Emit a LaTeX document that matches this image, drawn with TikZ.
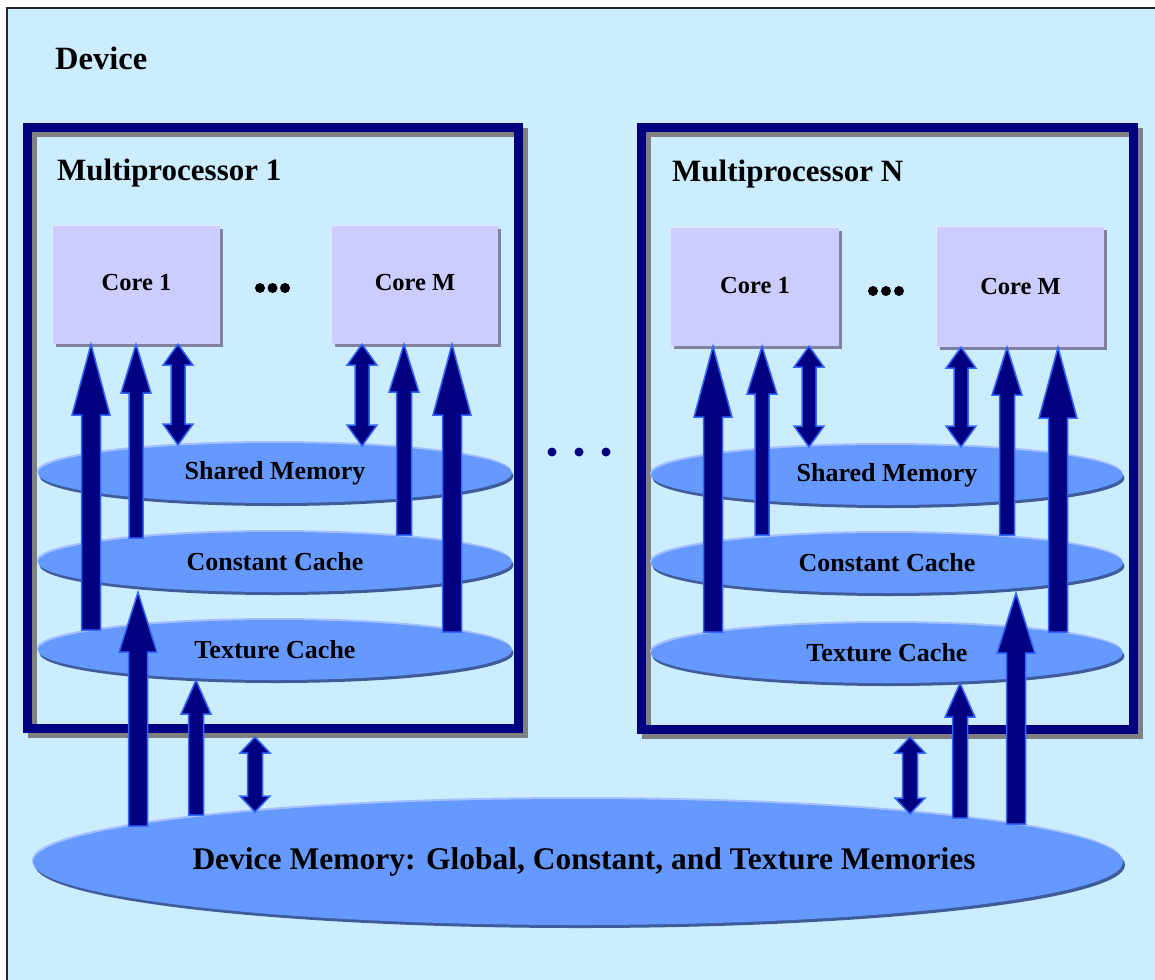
\documentclass[tikz,border=0pt]{standalone}
\usepackage{fontspec}
\setmainfont{Liberation Serif}
\usetikzlibrary{shapes.geometric,shadows,calc}
\definecolor{bgblue}{HTML}{CCECFF}
\definecolor{navy}{HTML}{000080}
\definecolor{mpgray}{HTML}{808080}
\definecolor{corefill}{HTML}{CCCCFF}
\definecolor{coreshade}{HTML}{80809F}
\definecolor{corehi}{HTML}{E6E6FF}
\definecolor{ellfill}{HTML}{6699FF}
\definecolor{ellshade}{HTML}{3D5C99}
\definecolor{ellhi}{HTML}{A3BFFF}
\definecolor{arrowline}{HTML}{3366FF}
\newcommand{\uparr}[5]{\filldraw[blockarrow] let \p1=(#1), \p2=(#2) in
  (\x1-#3,\y1) -- (\x1-#3,\y2-#5) -- (\x1-#4,\y2-#5) -- (\x1,\y2) --
  (\x1+#4,\y2-#5) -- (\x1+#3,\y2-#5) -- (\x1+#3,\y1) -- cycle;}
\newcommand{\dblarr}[5]{\filldraw[blockarrow] let \p1=(#1), \p2=(#2) in
  (\x1,\y1) -- (\x1+#4,\y1-#5) -- (\x1+#3,\y1-#5) -- (\x1+#3,\y2+#5) --
  (\x1+#4,\y2+#5) -- (\x1,\y2) -- (\x1-#4,\y2+#5) -- (\x1-#3,\y2+#5) --
  (\x1-#3,\y1-#5) -- (\x1-#4,\y1-#5) -- cycle;}
\tikzset{
  blockarrow/.style={fill=navy, draw=arrowline, line width=1.5pt, line join=miter},
  mpframe/.style={draw=navy, line width=9pt},
  mpshadow/.style={draw=mpgray, line width=9pt},
  corebox/.style={rectangle, fill=corefill, minimum width=167pt, minimum height=118pt,
    inner sep=0pt, font=\bfseries\fontsize{24.5}{29}\selectfont,
    general shadow={shadow xshift=3pt, shadow yshift=-3pt, fill=coreshade},
    general shadow={shadow xshift=-1.5pt, shadow yshift=1.5pt, fill=corehi}},
  memell/.style={ellipse, fill=ellfill, minimum width=474pt, minimum height=60pt,
    inner sep=0pt, font=\bfseries\fontsize{26}{31}\selectfont,
    general shadow={shadow xshift=1.5pt, shadow yshift=-3pt, fill=ellshade},
    general shadow={shadow xshift=-1pt, shadow yshift=2pt, fill=ellhi}},
  dmell/.style={ellipse, fill=ellfill, minimum width=1090pt, minimum height=126pt,
    inner ysep=0pt, inner xsep=-150pt, font=\bfseries\fontsize{31.5}{37}\selectfont,
    general shadow={shadow xshift=2pt, shadow yshift=-3pt, fill=ellshade},
    general shadow={shadow xshift=-1pt, shadow yshift=2pt, fill=ellhi}},
  title/.style={anchor=base west, inner sep=0pt, font=\bfseries\fontsize{31}{37}\selectfont},
  dot/.style={circle, fill=#1, inner sep=0pt, minimum size=10pt},
}
\begin{document}
\begin{tikzpicture}[x=1pt,y=-1pt]
\useasboundingbox (0,0) rectangle (1155,979);
\fill[white] (0,0) rectangle (1155,979);
% device frame
\draw[fill=bgblue, draw=black!85, line width=1.5pt] (7,8) rectangle (1200,1030);
\node[title, font=\bfseries\fontsize{32.5}{38}\selectfont] (devlbl) at (55,70) {Device};
% multiprocessor frames
\draw[mpshadow] (32.5,132.5) rectangle (523.5,733.5);
\draw[mpframe] (27.5,127.5) rectangle (518.5,728.5);
\draw[mpshadow] (646.5,132.5) rectangle (1138.5,734.5);
\draw[mpframe] (641.5,127.5) rectangle (1133.5,729.5);
\node[title] (mp1lbl) at (57,180) {Multiprocessor 1};
\node[title] (mpnlbl) at (672,181) {Multiprocessor N};
% cores
\node[corebox, text depth=6pt] (c11) at (136.5,285) {Core 1};
\node[corebox, text depth=6pt, minimum width=166pt] (c1m) at (415,285) {Core M};
\node[corebox, text depth=4pt, minimum width=168pt] (cn1) at (755,287) {Core 1};
\node[corebox, minimum height=120pt] (cnm) at (1020.5,287) {Core M};
\node[dot=black] (d11) at (260,288) {};
\node[dot=black] (d12) at (272.5,288) {};
\node[dot=black] (d13) at (285,288) {};
\node[dot=black] (dn1) at (873,291) {};
\node[dot=black] (dn2) at (886,291) {};
\node[dot=black] (dn3) at (899,291) {};
% memories MP1
\node[memell] (sm1) at (275,473) {Shared Memory};
\node[memell] (cc1) at (275,562) {Constant Cache};
\node[memell] (tc1) at (275,650) {Texture Cache};
% memories MPN
\node[memell, minimum width=472pt] (smn) at (887,475) {Shared Memory};
\node[memell, minimum width=472pt] (ccn) at (887,563) {Constant Cache};
\node[memell, minimum width=472pt] (tcn) at (887,653) {Texture Cache};
% device memory
\node[dmell] (dm) at (578,862) {};
\node[inner sep=0pt, font=\bfseries\fontsize{31.5}{37}\selectfont] (dmlbl) at (584,862) {Device Memory: Global, Constant, and Texture Memories};
% arrows MP1
\coordinate (a1) at (91,630);
\coordinate (b1) at (136,538);
\coordinate (e1) at (404,535);
\coordinate (f1) at (452,632);
\coordinate (g1) at (138,826);
\coordinate (h1) at (196,815);
\coordinate (cx1) at (178,445);
\coordinate (dx1) at (362,446);
\coordinate (ix1) at (255,812);
\coordinate (it1) at (255,737);
\uparr{a1}{a1 |- c11.south}{9.5pt}{19pt}{71pt}
\uparr{b1}{b1 |- c11.south}{7pt}{15pt}{49pt}
\dblarr{cx1 |- c11.south}{cx1}{7pt}{15pt}{21pt}
\dblarr{dx1 |- c1m.south}{dx1}{7pt}{15pt}{21pt}
\uparr{e1}{e1 |- c1m.south}{7.5pt}{15pt}{48pt}
\uparr{f1}{f1 |- c1m.south}{9.5pt}{19pt}{71pt}
\uparr{g1}{g1 |- cc1.south}{9.5pt}{19pt}{60pt}
\uparr{h1}{h1 |- tc1.south}{7.5pt}{15pt}{34pt}
\dblarr{it1}{ix1}{7.5pt}{15pt}{16pt}
% arrows MPN
\coordinate (an) at (713,632);
\coordinate (bn) at (762,535);
\coordinate (en) at (1007,535);
\coordinate (fn) at (1058,632);
\coordinate (gn) at (1016,824);
\coordinate (hn) at (960,818);
\coordinate (cxn) at (809,447);
\coordinate (dxn) at (961,447);
\coordinate (ixn) at (910,814);
\coordinate (itn) at (910,737);
\uparr{an}{an |- cn1.south}{9.5pt}{19pt}{71pt}
\uparr{bn}{bn |- cn1.south}{7pt}{15pt}{48pt}
\dblarr{cxn |- cn1.south}{cxn}{7pt}{15pt}{21pt}
\dblarr{dxn |- cnm.south}{dxn}{7pt}{15pt}{21pt}
\uparr{en}{en |- cnm.south}{7.5pt}{15pt}{48pt}
\uparr{fn}{fn |- cnm.south}{9.5pt}{19pt}{71pt}
\uparr{gn}{gn |- ccn.south}{9.5pt}{19pt}{60pt}
\uparr{hn}{hn |- tcn.south}{7.5pt}{15pt}{34pt}
\dblarr{itn}{ixn}{7.5pt}{15pt}{16pt}
% dots between multiprocessors
\node[dot=navy, minimum size=9pt] (m1) at (552,452) {};
\node[dot=navy, minimum size=9pt] (m2) at (579,452) {};
\node[dot=navy, minimum size=9pt] (m3) at (606,452) {};
\end{tikzpicture}
\end{document}
